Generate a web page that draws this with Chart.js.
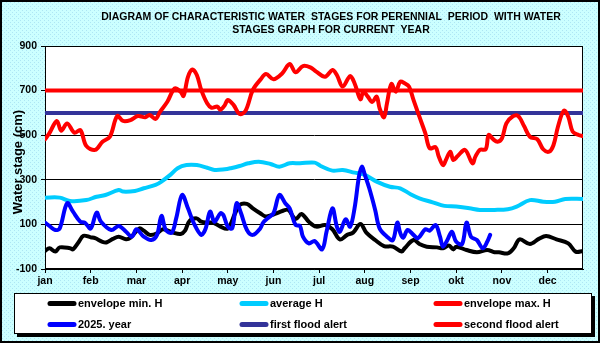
<!DOCTYPE html>
<html>
<head>
<meta charset="utf-8">
<script src="https://cdn.jsdelivr.net/npm/chart.js@4/dist/chart.umd.min.js"></script>
<style>
html,body{margin:0;padding:0;background:#ffffff;}
canvas{display:block;}
</style>
</head>
<body>
<canvas id="c" width="600" height="343"></canvas>
<script>
// ---------- DATA ----------
const months = ['jan','feb','mar','apr','may','jun','jul','aug','sep','okt','nov','dec'];
const monthTickDays = [0,31,62,93,124,155,186,217,248,279,310,341];
const titleLines = ['DIAGRAM OF CHARACTERISTIC WATER  STAGES FOR PERENNIAL  PERIOD  WITH WATER', 'STAGES GRAPH FOR CURRENT  YEAR'];
const yAxisTitle = 'Water stage (cm)';
const seriesNames = ['envelope min. H','average H','envelope max. H','2025. year','first flood alert','second flood alert'];

const envMinDays   = [0,3,7,10,17,19,23,26,31,34,39,42,46,50,55,58,64,67,71,76,80,87,92,95,98,103,106,110,114,119,124,129,132,137,141,146,150,156,161,165,170,174,179,184,190,195,200,205,209,214,218,224,230,236,242,244,250,254,259,266,270,274,277,279,286,293,300,305,308,314,318,322,329,335,340,347,355,360,365];
const envMinValues = [-19,-7,-22,-3,-7,-12,22,49,42,38,22,20,35,45,33,40,82,72,53,60,78,63,57,72,115,127,112,108,108,90,82,150,187,192,172,150,135,147,160,165,124,147,112,90,97,78,33,53,63,102,63,30,3,0,-22,-7,30,12,0,-3,-7,5,-12,0,-15,-25,-15,-25,-25,-30,-7,33,12,35,48,33,15,-22,-19];

const averageDays   = [0,10,17,28,35,41,50,53,61,67,75,79,85,90,96,103,110,115,122,126,132,138,145,153,159,166,173,183,187,195,202,210,217,225,234,241,248,254,263,271,279,288,295,305,314,320,329,338,346,353,365];
const averageValues = [220,220,205,209,224,232,254,247,250,262,277,292,322,352,366,366,354,344,347,352,362,374,381,371,359,374,374,377,362,341,344,332,322,292,269,262,235,217,199,183,180,172,165,165,168,180,209,202,202,214,214];

const envMaxDays   = [0,3,8,11,15,20,24,28,34,39,44,49,53,58,63,68,71,75,78,83,88,92,94,97,100,103,106,110,113,117,119,122,124,128,132,136,141,146,150,155,161,166,170,175,180,184,190,195,198,202,207,210,214,216,219,222,225,227,230,232,235,238,241,244,247,250,254,258,261,265,267,270,272,275,277,280,285,290,292,295,299,301,304,307,310,313,317,321,325,329,334,338,342,345,348,352,355,358,362,365];
const envMaxValues = [482,509,564,520,553,511,523,452,434,471,493,586,564,568,586,580,591,573,605,650,710,695,676,762,795,770,703,643,623,628,614,635,658,635,595,609,703,748,774,751,778,819,782,810,804,785,762,792,770,718,765,733,661,695,673,649,673,621,580,643,730,695,740,733,718,658,583,509,441,446,407,366,389,426,389,407,434,374,404,434,437,501,482,471,486,553,583,586,541,493,482,437,426,456,538,610,583,516,501,496];

const year2025Days   = [0,3,7,10,15,19,24,27,31,35,38,45,50,55,59,62,67,72,76,79,82,86,89,93,97,101,106,109,112,115,119,121,124,127,130,133,137,141,146,148,151,155,159,163,166,170,173,175,179,183,188,191,195,198,200,204,207,210,213,215,217,220,224,227,232,236,239,241,243,246,250,253,258,261,265,268,270,273,276,279,283,286,289,293,297,300,302];
const year2025Values = [108,93,75,82,195,157,112,108,82,153,112,75,93,67,45,78,45,30,53,138,75,63,127,232,172,105,53,82,157,112,150,142,90,82,195,150,75,53,82,108,127,150,232,195,172,97,93,45,15,25,-12,67,172,90,67,123,90,172,314,359,322,262,165,82,45,30,108,62,40,75,53,38,78,72,97,45,0,30,67,22,12,108,45,30,-7,22,53];

const firstFloodAlert = 600;
const secondFloodAlert = 700;
const yearStartDay = 0, yearEndDay = 365;

// ---------- BUILD ----------
const pts = (d, v) => d.map((x, i) => ({x: x, y: v[i]}));
const flat = (v) => [{x: yearStartDay, y: v}, {x: yearEndDay, y: v}];

const lineDs = (label, data, color, order) => ({
  label, data, borderColor: color, backgroundColor: color,
  borderWidth: 4, pointRadius: 0, pointHoverRadius: 0, tension: 0.35,
  borderCapStyle: 'round', borderJoinStyle: 'round', fill: false, order
});

const datasets = [
  lineDs(seriesNames[0], pts(envMinDays, envMinValues), '#000000', 2),
  lineDs(seriesNames[1], pts(averageDays, averageValues), '#00CCFF', 3),
  lineDs(seriesNames[2], pts(envMaxDays, envMaxValues), '#FF0000', 0),
  lineDs(seriesNames[3], pts(year2025Days, year2025Values), '#0000FF', 1),
  lineDs(seriesNames[4], flat(firstFloodAlert), '#333399', 5),
  lineDs(seriesNames[5], flat(secondFloodAlert), '#FF0000', 4)
];
datasets[4].tension = 0; datasets[5].tension = 0;
datasets[4].borderCapStyle = 'butt'; datasets[5].borderCapStyle = 'butt';

const FONT = "'Liberation Sans', Arial, sans-serif";

const decor = {
  id: 'decor',
  beforeDraw(chart) {
    const {ctx, chartArea: a, width, height} = chart;
    ctx.save();
    const pc = document.createElement('canvas'); pc.width = 4; pc.height = 4;
    const p = pc.getContext('2d');
    p.fillStyle = '#ccffff'; p.fillRect(0, 0, 4, 4);
    p.fillStyle = '#aee6f4'; p.fillRect(0, 0, 1, 1); p.fillRect(2, 2, 1, 1);
    ctx.fillStyle = ctx.createPattern(pc, 'repeat');
    ctx.fillRect(0, 0, width, height);
    ctx.fillStyle = '#ffffff';
    ctx.fillRect(a.left, a.top, a.right - a.left, a.bottom - a.top);
    ctx.restore();
  },
  beforeDatasetsDraw(chart) {
    const {ctx, chartArea: a} = chart;
    ctx.save();
    ctx.strokeStyle = '#000'; ctx.lineWidth = 1;
    ctx.strokeRect(Math.round(a.left) + 0.5, Math.round(a.top) + 0.5,
                   Math.round(a.right - a.left) - 1, Math.round(a.bottom - a.top) - 1);
    ctx.restore();
  },
  afterDraw(chart) {
    const {ctx, chartArea: a} = chart;
    ctx.save();
    // title
    ctx.fillStyle = '#000';
    ctx.font = 'bold 10.5px ' + FONT;
    ctx.textAlign = 'center'; ctx.textBaseline = 'middle';
    ctx.fillText(titleLines[0], 331, 17);
    ctx.fillText(titleLines[1], 331, 30);
    // y axis title
    ctx.save();
    ctx.translate(18, 162);
    ctx.rotate(-Math.PI / 2);
    ctx.font = 'bold 13px ' + FONT;
    ctx.fillText(yAxisTitle, 0, 0);
    ctx.restore();
    // legend box
    const bx = 14, by = 293, bw = 578, bh = 41;
    ctx.fillStyle = '#000';
    ctx.fillRect(bx + 3, by + 3, bw, bh);
    ctx.fillStyle = '#fff';
    ctx.fillRect(bx, by, bw, bh);
    ctx.strokeStyle = '#000'; ctx.lineWidth = 1;
    ctx.strokeRect(bx + 0.5, by + 0.5, bw - 1, bh - 1);
    const colX = [48, 240, 434], rowY = [303.5, 324.5];
    ctx.font = 'bold 11px ' + FONT;
    ctx.textAlign = 'left'; ctx.textBaseline = 'middle';
    chart.data.datasets.forEach((ds, i) => {
      const x = colX[i % 3], y = rowY[Math.floor(i / 3)];
      ctx.strokeStyle = ds.borderColor; ctx.lineWidth = 5; ctx.lineCap = 'round';
      ctx.beginPath(); ctx.moveTo(x + 2, y); ctx.lineTo(x + 26, y); ctx.stroke();
      ctx.fillStyle = '#000';
      ctx.fillText(ds.label, x + 30, y + 0.5);
    });
    // outer border
    ctx.strokeStyle = '#000'; ctx.lineWidth = 2; ctx.lineCap = 'butt';
    ctx.strokeRect(1, 1, 598, 341);
    ctx.restore();
  }
};

new Chart(document.getElementById('c'), {
  type: 'line',
  data: { datasets },
  plugins: [decor],
  options: {
    responsive: false,
    animation: false,
    devicePixelRatio: 1,
    layout: { padding: { left: 0, top: 46, right: 17, bottom: 50 } },
    plugins: { legend: { display: false }, title: { display: false }, tooltip: { enabled: false } },
    scales: {
      x: {
        type: 'linear', min: yearStartDay, max: yearEndDay,
        afterBuildTicks: (s) => { s.ticks = monthTickDays.map(v => ({ value: v })); },
        afterFit: (s) => { s.height = 24; },
        ticks: {
          autoSkip: false, maxRotation: 0, padding: 2, color: '#000',
          font: { family: FONT, size: 10.5, weight: 'bold' },
          callback: (v) => months[monthTickDays.indexOf(v)]
        },
        grid: { drawOnChartArea: false, drawTicks: true, tickLength: 4, tickColor: '#000', color: '#000' },
        border: { display: true, color: '#000', width: 1 }
      },
      y: {
        type: 'linear', min: -100, max: 900,
        afterFit: (s) => { s.width = 45; },
        ticks: {
          stepSize: 200, padding: 4, color: '#000',
          font: { family: FONT, size: 10.5, weight: 'bold' }
        },
        grid: { color: '#000', lineWidth: 1, drawTicks: true, tickLength: 4, tickColor: '#000' },
        border: { display: true, color: '#000', width: 1 }
      }
    }
  }
});
</script>
</body>
</html>
